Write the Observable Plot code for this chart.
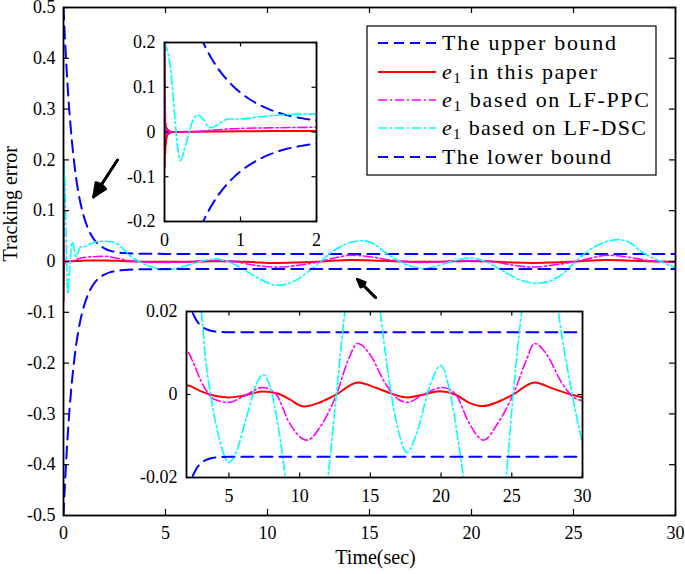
<!DOCTYPE html>
<html><head><meta charset="utf-8">
<script src="https://cdn.jsdelivr.net/npm/d3@7"></script>
<script src="https://cdn.jsdelivr.net/npm/@observablehq/plot@0.6"></script>
<style>
html,body{margin:0;padding:0;background:#fff;}
#wrap{position:relative;width:685px;height:574px;overflow:hidden;background:#fff;}
#wrap > svg{position:absolute;}
</style></head><body><div id="wrap"></div>
<script>
// ---------- data ----------
const tBound = [0,0.05,0.1,0.15,0.2,0.25,0.3,0.4,0.5,0.6,0.7,0.8,0.9,1.0,1.2,1.4,1.6,1.8,2.0,2.3,2.6,3.0,3.5,4.0,5.0,30];
const upperBound = [0.5,0.455,0.416,0.38,0.347,0.316,0.29,0.242,0.203,0.17,0.143,0.121,0.103,0.088,0.065,0.049,0.038,0.031,0.026,0.021,0.0185,0.0166,0.0156,0.0152,0.015,0.015];
const lowerBound = [-0.5,-0.455,-0.416,-0.38,-0.347,-0.316,-0.29,-0.242,-0.203,-0.17,-0.143,-0.121,-0.103,-0.088,-0.065,-0.049,-0.038,-0.031,-0.026,-0.021,-0.0185,-0.0166,-0.0156,-0.0152,-0.015,-0.015];

const tThis = [0,0.004,0.008,0.012,0.016,0.02,0.025,0.03,0.035,0.04,0.05,0.06,0.07,0.08,0.1,0.3,0.6,1.0,1.5,2.0,3.0,4.0,5.0,6.0,7.4,8.5,9.3,10.3,11.5,12.6,14.1,15.5,16.5,17.6,18.8,19.9,21.0,22.0,23.0,24.0,25.1,26.6,28.0,29.0,30];
const e1This = [0.2,-0.08,0.04,-0.05,0.02,-0.03,0.012,-0.015,0.008,-0.008,0.005,-0.004,0.002,-0.001,0,0.0003,0.001,0.0016,0.0022,0.0022,0.0008,-0.0003,-0.0007,-0.0003,0.0007,0.0002,-0.0012,-0.0029,-0.0018,0,0.0029,0.0015,0.0002,-0.0007,0,0.0008,0,-0.002,-0.0028,-0.0018,0,0.0029,0.0013,0.0002,-0.0007];

const tPPC = [0,0.005,0.01,0.015,0.02,0.03,0.04,0.06,0.1,0.3,0.5,0.7,1.0,1.5,2.0,2.5,3.0,4.0,5.0,6.0,7.4,8.3,9.3,10.5,11.6,12.6,13.4,14.1,15.0,16.0,17.0,17.6,18.6,20.1,21.0,22.0,23.0,24.0,25.1,26.0,26.6,27.5,28.5,29.3,30];
const e1PPC = [0.2,0.12,0.05,0.015,-0.01,0.006,-0.004,0.002,0,0,0.002,0.005,0.008,0.0095,0.0105,0.0075,0.0034,-0.0012,-0.0019,-0.0005,0.0017,0.0002,-0.007,-0.011,-0.007,0,0.008,0.0123,0.0095,0.003,-0.0012,-0.0019,-0.0003,0.0017,0.0002,-0.007,-0.011,-0.007,0,0.008,0.0123,0.0095,0.003,-0.0005,-0.0015];

const tDSC = [0,0.04,0.08,0.1,0.14,0.17,0.21,0.26,0.32,0.38,0.44,0.52,0.58,0.63,0.69,0.84,1.0,1.21,1.52,1.9,2.3,2.7,3.05,3.4,3.7,4.2,4.6,5.0,5.5,6.2,7.0,7.4,7.9,8.5,9.0,9.6,10.5,11.3,12.0,12.6,13.2,13.9,14.7,15.2,15.7,16.3,17.0,17.6,18.3,19.2,20.0,20.6,21.6,22.3,23.2,24.0,24.6,25.1,25.7,26.4,27.2,27.8,28.3,29.0,29.5,30];
const e1DSC = [0.2,0.18,0.14,0.108,0.026,-0.03,-0.064,-0.04,-0.004,0.028,0.038,0.026,0.011,0.01,0.015,0.029,0.029,0.033,0.038,0.04,0.039,0.033,0.02,0.007,0,-0.009,-0.014,-0.0164,-0.014,-0.006,0.003,0.0048,0.002,-0.008,-0.02,-0.034,-0.047,-0.039,-0.02,0,0.02,0.035,0.041,0.035,0.02,0.004,-0.009,-0.014,-0.009,0.002,0.007,0.001,-0.02,-0.035,-0.043,-0.036,-0.02,0,0.02,0.036,0.043,0.036,0.02,0.005,-0.004,-0.0118];

const legendLabels = ["The upper bound", "in this paper", "based on LF-PPC", "based on LF-DSC", "The lower bound"];

const xTicksMain = [0,5,10,15,20,25,30];
const yTicksMain = [-0.5,-0.4,-0.3,-0.2,-0.1,0,0.1,0.2,0.3,0.4,0.5];
const xTicksIn1 = [0,1,2];
const yTicksIn1 = [-0.2,-0.1,0,0.1,0.2];
const xTicksIn2 = [5,10,15,20,25,30];
const yTicksIn2 = [-0.02,0,0.02];

// annotation arrows (data coordinates of the main axes): tail -> head
const arrowTail = [[2.65,0.2],[15.3,-0.071]];
const arrowHead = [[1.47,0.127],[14.41,-0.035]];

// ---------- build ----------
const zip = (t, v) => t.map((d, i) => ({t: d, v: v[i]}));
const series = [
  {data: zip(tBound, upperBound), stroke: "#0000ff", dash: "12,7", w: 2},
  {data: zip(tThis, e1This), stroke: "#ff0000", dash: null, w: 2},
  {data: zip(tPPC, e1PPC), stroke: "#ff00ff", dash: "9,3,2,3", w: 1.6},
  {data: zip(tDSC, e1DSC), stroke: "#00ffff", dash: "9,3,2,3", w: 1.6},
  {data: zip(tBound, lowerBound), stroke: "#0000ff", dash: "12,7", w: 2}
];
const lines = () => series.map(s => Plot.line(s.data, {
  x: "t", y: "v", stroke: s.stroke, strokeWidth: s.w,
  strokeDasharray: s.dash, curve: "monotone-x", clip: true
}));
const fmt = d => String(d);
function inwardTicks(xt, yt, xd, yd, wPx, hPx, len) {
  const dy = len * (yd[1] - yd[0]) / hPx, dx = len * (xd[1] - xd[0]) / wPx;
  const o = {stroke: "black", strokeWidth: 1.2};
  return [
    Plot.ruleX(xt, {x: d => d, y1: yd[0], y2: yd[0] + dy, ...o}),
    Plot.ruleX(xt, {x: d => d, y1: yd[1], y2: yd[1] - dy, ...o}),
    Plot.ruleY(yt, {y: d => d, x1: xd[0], x2: xd[0] + dx, ...o}),
    Plot.ruleY(yt, {y: d => d, x1: xd[1], x2: xd[1] - dx, ...o})
  ];
}
const FONT = "'Liberation Serif', 'Times New Roman', serif";
const wrap = document.getElementById("wrap");
const arrowData = arrowTail.map((d, i) => ({x1: d[0], y1: d[1], x2: arrowHead[i][0], y2: arrowHead[i][1]}));

// main axes
{
  const W = 685, H = 574, mL = 63, mR = 10, mT = 7, mB = 59;
  const xd = [0, 30], yd = [-0.5, 0.5];
  const svg = Plot.plot({
    width: W, height: H, marginLeft: mL, marginRight: mR, marginTop: mT, marginBottom: mB,
    x: {domain: xd}, y: {domain: yd},
    style: {fontFamily: FONT, fontSize: "18px", background: "transparent", color: "black", overflow: "visible"},
    marks: [
      Plot.axisX(xTicksMain, {tickSize: 0, tickPadding: 11, tickFormat: fmt, label: null, fontSize: 18}),
      Plot.axisY(yTicksMain, {tickSize: 0, tickPadding: 8, tickFormat: fmt, label: null, fontSize: 18}),
      ...lines(),
      ...inwardTicks(xTicksMain, yTicksMain, xd, yd, W - mL - mR, H - mT - mB, 6),
      Plot.frame({stroke: "black", strokeWidth: 1.8}),
      ...[12, 24, 36, 48].map(a => Plot.arrow(arrowData,
        {x1: "x1", y1: "y1", x2: "x2", y2: "y2", stroke: "black", strokeWidth: 2.4, headLength: 13, headAngle: a})),
      Plot.text(["Time(sec)"], {frameAnchor: "bottom", lineAnchor: "middle", dy: 42, dx: 6, fontSize: 20, fill: "black"}),
      Plot.text(["Tracking error"], {frameAnchor: "left", lineAnchor: "middle", dx: -53, rotate: -90, fontSize: 20, fill: "black"})
    ]
  });
  svg.style.left = "0px"; svg.style.top = "0px";
  wrap.appendChild(svg);
}

// inset plot helper
function inset(box, xd, yd, xt, yt, mL) {
  const mR = 10, mT = 8, mB = 30;
  const w = box[2] - box[0], h = box[3] - box[1];
  const svg = Plot.plot({
    width: w + mL + mR, height: h + mT + mB,
    marginLeft: mL, marginRight: mR, marginTop: mT, marginBottom: mB,
    x: {domain: xd}, y: {domain: yd},
    style: {fontFamily: FONT, fontSize: "18px", background: "transparent", color: "black", overflow: "visible"},
    marks: [
      Plot.frame({fill: "white"}),
      Plot.axisX(xt, {tickSize: 0, tickPadding: 12, tickFormat: fmt, label: null, fontSize: 18}),
      Plot.axisY(yt, {tickSize: 0, tickPadding: 9, tickFormat: fmt, label: null, fontSize: 18}),
      ...lines(),
      ...inwardTicks(xt, yt, xd, yd, w, h, 4.5),
      Plot.frame({stroke: "black", strokeWidth: 1.8})
    ]
  });
  svg.style.left = (box[0] - mL) + "px";
  svg.style.top = (box[1] - mT) + "px";
  wrap.appendChild(svg);
}
inset([164, 42, 316, 221], [0, 2], [-0.2, 0.2], xTicksIn1, yTicksIn1, 50);
inset([186, 311, 582, 477], [2, 30], [-0.02, 0.02], xTicksIn2, yTicksIn2, 60);

// legend
{
  const L = d3.create("svg").attr("width", 685).attr("height", 574)
    .style("left", "0px").style("top", "0px").style("pointer-events", "none")
    .style("font-family", FONT);
  L.append("rect").attr("x", 367).attr("y", 26).attr("width", 289).attr("height", 149)
    .attr("fill", "white").attr("stroke", "black").attr("stroke-width", 1.2);
  const rowY = [43, 72, 100, 128, 157];
  const widths = [174, 155, 207, 204, 169];
  series.forEach((s, i) => {
    const y = rowY[i];
    L.append("line").attr("x1", 378).attr("x2", 436).attr("y1", y).attr("y2", y)
      .attr("stroke", s.stroke).attr("stroke-width", s.w)
      .attr("stroke-dasharray", s.dash === "12,7" ? "10,6" : s.dash);
    const t = L.append("text").attr("x", 442).attr("y", y).attr("dy", "0.34em")
      .attr("font-size", 22).attr("fill", "black")
      .attr("textLength", widths[i]).attr("lengthAdjust", "spacing");
    if (i >= 1 && i <= 3) {
      t.append("tspan").attr("font-style", "italic").text("e");
      t.append("tspan").attr("font-size", 15).attr("dy", 4).text("1");
      t.append("tspan").attr("dy", -4).text(" " + legendLabels[i]);
    } else {
      t.text(legendLabels[i]);
    }
  });
  wrap.appendChild(L.node());
}
</script></body></html>
